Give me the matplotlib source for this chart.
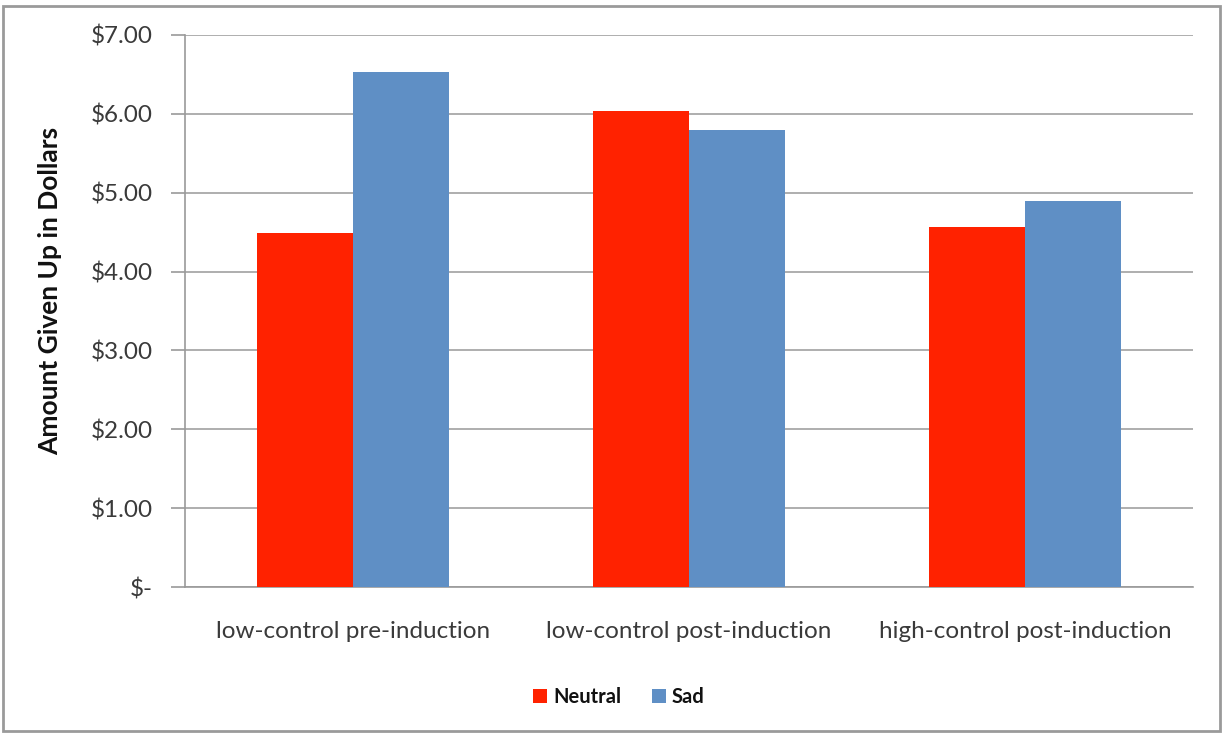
import matplotlib
matplotlib.use("Agg")
import matplotlib.pyplot as plt
import numpy as np
from matplotlib.patches import Rectangle

categories = ["low-control pre-induction", "low-control post-induction", "high-control post-induction"]
neutral = [4.49, 6.03, 4.57]
sad = [6.53, 5.79, 4.89]
series_names = ["Neutral", "Sad"]
y_ticks = [0, 1, 2, 3, 4, 5, 6, 7]
y_tick_labels = ["$-", "$1.00", "$2.00", "$3.00", "$4.00", "$5.00", "$6.00", "$7.00"]

plt.rcParams["font.family"] = ["Lato", "DejaVu Sans"]

fig = plt.figure(figsize=(12.25, 7.34), dpi=100)
ax = fig.add_axes([185 / 1225, 1 - 587.3 / 734, (1193 - 185) / 1225, (587.3 - 34.7) / 734])

x = np.arange(len(categories))
w = 1 / 3.5
red = "#FF2200"
blue = "#5F8FC5"
ax.bar(x - w / 2, neutral, width=w, color=red, label=series_names[0], zorder=3)
ax.bar(x + w / 2, sad, width=w, color=blue, label=series_names[1], zorder=3)

ax.set_xlim(-0.5, len(categories) - 0.5)
ax.set_ylim(0, 7)
ax.set_yticks(y_ticks)
ax.set_yticklabels(y_tick_labels, fontsize=17.5, color="#3a3a3a")
ax.set_xticks(x)
ax.set_xticklabels(categories, fontsize=17.5, color="#3a3a3a")
ax.tick_params(axis="y", length=10, width=1.2, color="#9a9a9a", pad=13)
ax.tick_params(axis="x", length=0, pad=24)
ax.yaxis.grid(True, color="#a8a8a8", linewidth=1.3, zorder=0)
for s in ["top", "right"]:
    ax.spines[s].set_visible(False)
ax.spines["left"].set_color("#9a9a9a")
ax.spines["left"].set_linewidth(1.2)
ax.spines["bottom"].set_color("#9a9a9a")
ax.spines["bottom"].set_linewidth(1.2)

ax.set_ylabel("Amount Given Up in Dollars", fontsize=19, fontweight="bold", color="#111111")
ax.yaxis.set_label_coords(50 / 1225, 0.5, transform=fig.transFigure)
ax.yaxis.label.set_verticalalignment("center")
ax.yaxis.label.set_y(1 - 291 / 734)

leg = fig.legend(loc="center", bbox_to_anchor=(619 / 1225, 1 - 697 / 734), ncol=2, frameon=False,
                 fontsize=14.5, handlelength=0.7, handleheight=0.7, handletextpad=0.3, columnspacing=1.5)
for t in leg.get_texts():
    t.set_fontweight("bold")
    t.set_color("#111111")

fig.patches.append(Rectangle((3 / 1225, 3 / 734), 1217 / 1225, 725 / 734, transform=fig.transFigure,
                             fill=False, edgecolor="#9a9a9a", linewidth=2))

fig.savefig("out.png", dpi=100)
